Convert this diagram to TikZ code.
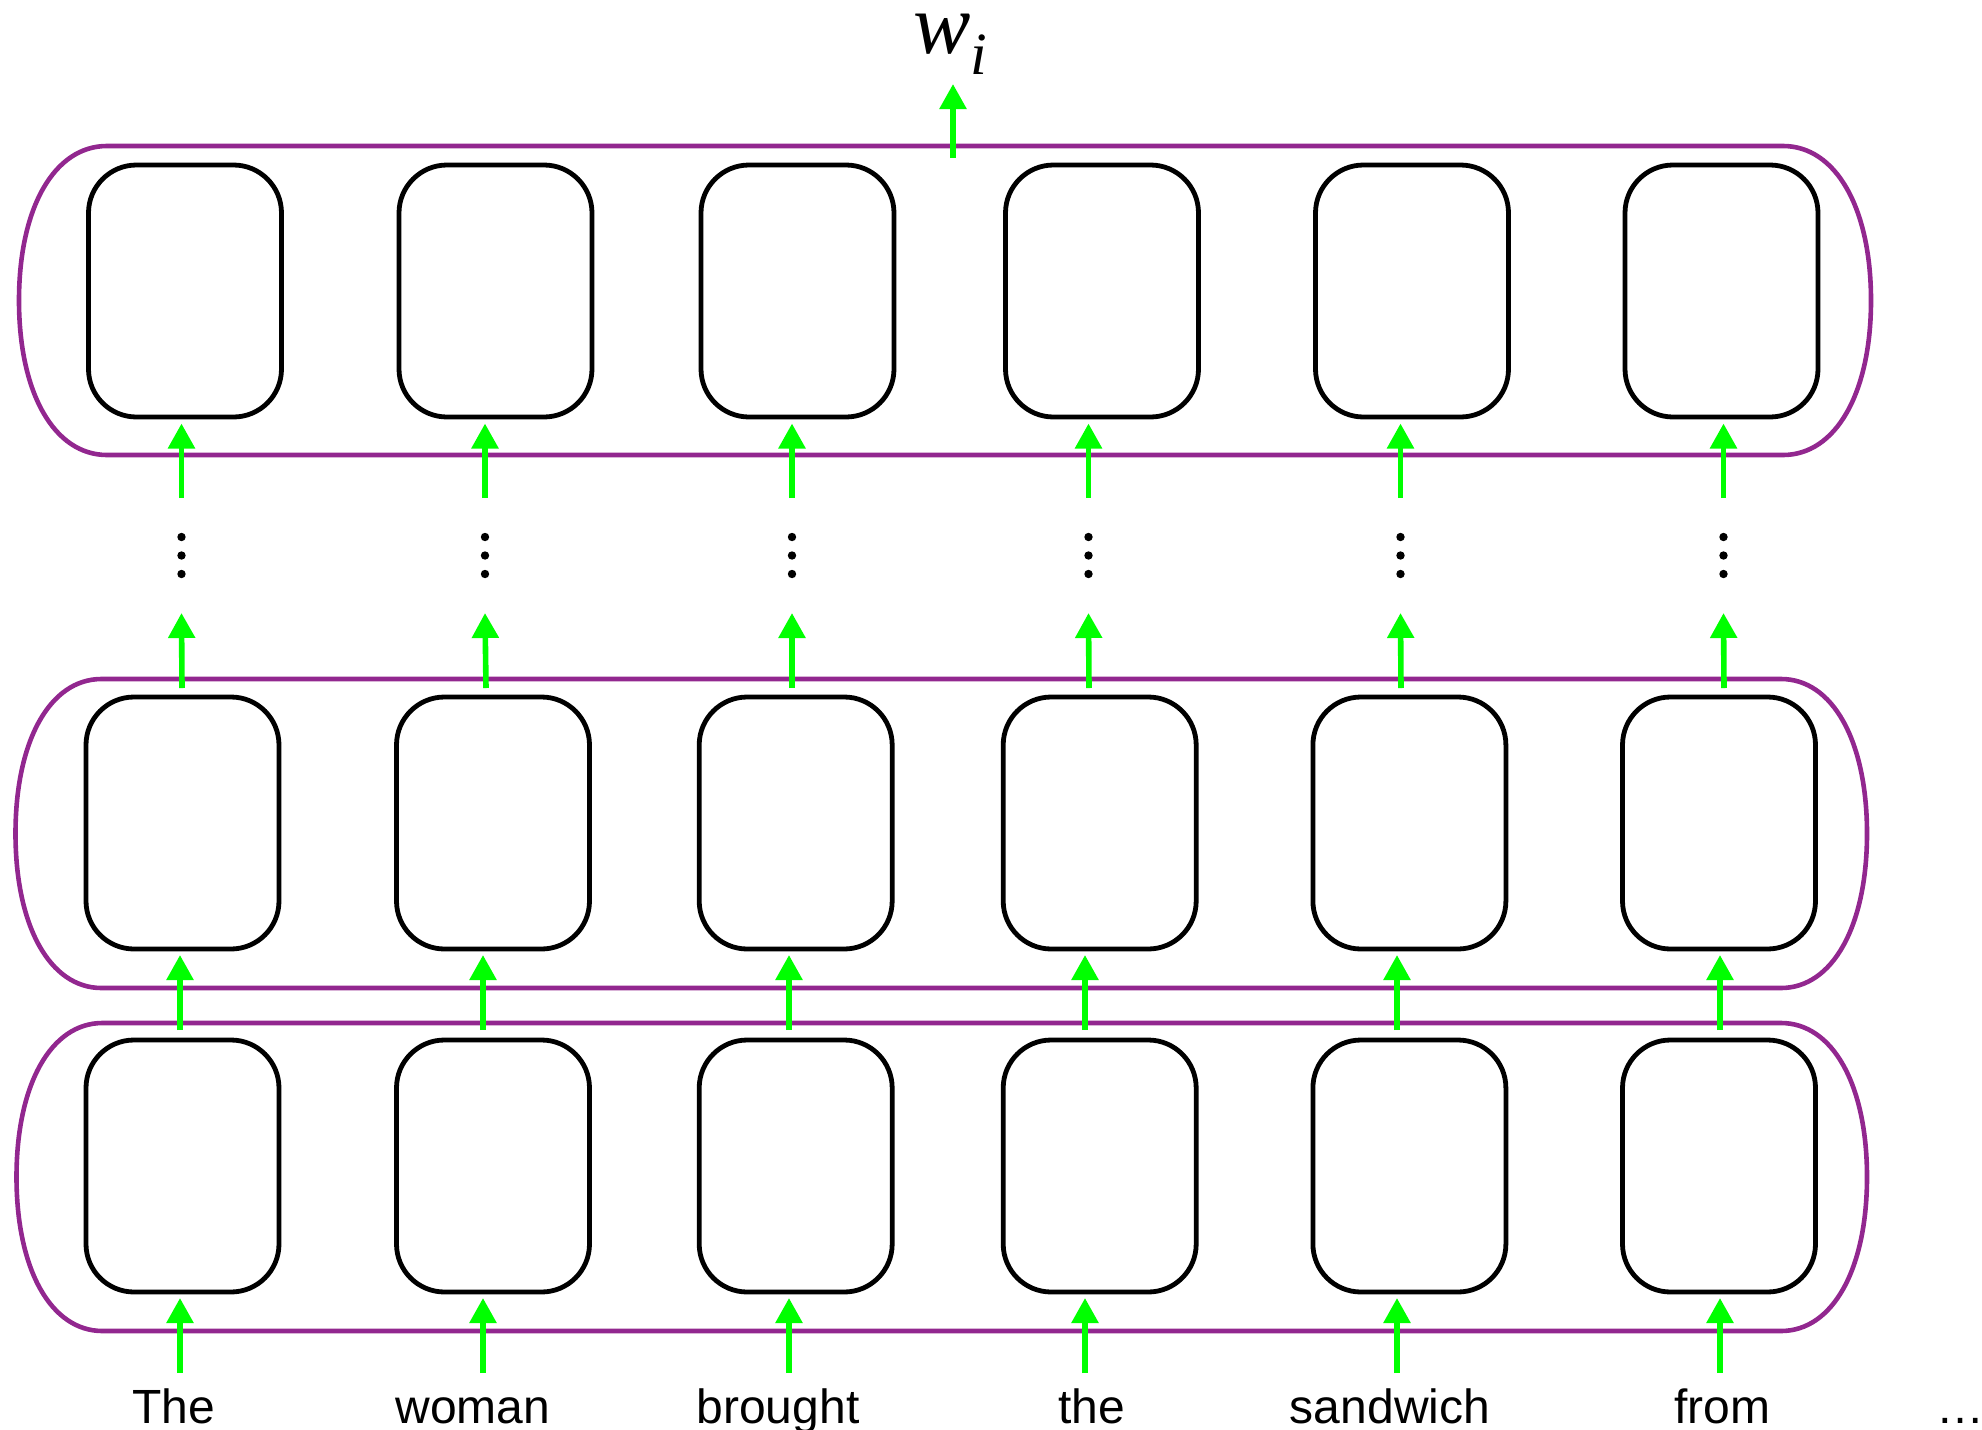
\documentclass[tikz,border=0pt]{standalone}
\usepackage{fontspec}
\setmainfont{Liberation Sans}
\newfontfamily\serifface{Liberation Serif}
\usetikzlibrary{arrows.meta}
\definecolor{lanepurple}{RGB}{146,39,143}
\definecolor{flowgreen}{RGB}{0,255,0}

% capsule-shaped layer outline: left, top, right, bottom, end radius
\newcommand{\lanepath}[5]{%
  \draw[lane] ({#1+#5},#2) -- ({#3-#5},#2)
    .. controls ({#3-0.4*#5},#2) and (#3,{#2+0.2*(#4-#2)}) .. (#3,{0.5*(#2+#4)})
    .. controls (#3,{#4-0.2*(#4-#2)}) and ({#3-0.4*#5},#4) .. ({#3-#5},#4)
    -- ({#1+#5},#4)
    .. controls ({#1+0.4*#5},#4) and (#1,{#4-0.2*(#4-#2)}) .. (#1,{0.5*(#2+#4)})
    .. controls (#1,{#2+0.2*(#4-#2)}) and ({#1+0.4*#5},#2) .. cycle;}

\begin{document}
\begin{tikzpicture}[x=0.5pt,y=-0.5pt,
  cell/.style={draw=black, line width=2.4pt, rounded corners=24pt,
    minimum width=96.5pt, minimum height=126pt, inner sep=0pt, outer sep=0pt},
  lane/.style={draw=lanepurple, line width=2.3pt},
  flow/.style={draw=flowgreen, line width=2.8pt,
    -{Triangle[width=13pt,length=12.5pt]}},
  vstack/.style={inner sep=0pt, outer sep=0pt, minimum width=10pt,
    minimum height=57.5pt,
    path picture={
      \fill (path picture bounding box.center) ++(0pt,9.25pt) circle (2.1pt);
      \fill (path picture bounding box.center) circle (2.1pt);
      \fill (path picture bounding box.center) ++(0pt,-9.25pt) circle (2.1pt);
    }},
  word/.style={font=\fontsize{24pt}{28pt}\selectfont, anchor=base,
    inner sep=0pt}
]
\useasboundingbox (0,0) rectangle (1982,1430);

% layer outlines
\lanepath{19}{146}{1871}{455}{88}
\lanepath{15.5}{679}{1867}{988}{86}
\lanepath{16.5}{1023}{1867}{1331}{86}

% cells of the top layer
\foreach \i/\x in {1/185,2/495.5,3/797.5,4/1102,5/1412,6/1721.5}
  \node[cell] (a\i) at (\x,291) {};
% cells of the middle and bottom layers
\foreach \i/\x in {1/182.5,2/493,3/795.7,4/1099.7,5/1409.4,6/1719} {
  \node[cell] (b\i) at (\x,823) {};
  \node[cell] (c\i) at (\x,1166) {};
}

% omitted layers
\foreach \i/\x in {1/181.5,2/485,3/792,4/1088.5,5/1400.5,6/1723.5}
  \node[vstack] (v\i) at (\x,555.5) {};

% tails of the arrows
\foreach \i/\x in {1/182,2/486,3/792,4/1089,5/1401,6/1724}
  \coordinate (u\i) at (\x,688);
\foreach \i/\x in {1/180,2/483,3/789,4/1085,5/1397,6/1720} {
  \coordinate (m\i) at (\x,1030);
  \coordinate (in\i) at (\x,1373);
}

% words
\node[word] (t1) at (174,1423) {The};
\node[word] (t2) at (473,1423) {woman};
\node[word] (t3) at (778,1423) {brought};
\node[word] (t4) at (1092,1423) {the};
\node[word] (t5) at (1390,1423) {sandwich};
\node[word] (t6) at (1722,1423) {from};
\node[word] (t7) at (1960,1423) {…};

% arrows
\foreach \i in {1,...,6} {
  \draw[flow, shorten >=3pt] (in\i) -- (in\i |- c\i.south);
  \draw[flow, shorten >=3pt] (m\i) -- (m\i |- b\i.south);
  \draw[flow] (u\i) -- (v\i.south);
  \draw[flow, shorten >=3.25pt] (v\i.north) -- (v\i.north |- a\i.south);
}

% output
\node[inner sep=0pt, outer sep=0pt, anchor=base west] (wi) at (913,53)
  {\serifface\itshape\fontsize{43pt}{47pt}\selectfont w\raisebox{-10.5pt}{\fontsize{30pt}{34pt}\selectfont i}};
\coordinate (wtail) at (953,158);
\draw[flow, shorten >=5pt] (wtail) -- (wtail |- wi.south);
\end{tikzpicture}
\end{document}
